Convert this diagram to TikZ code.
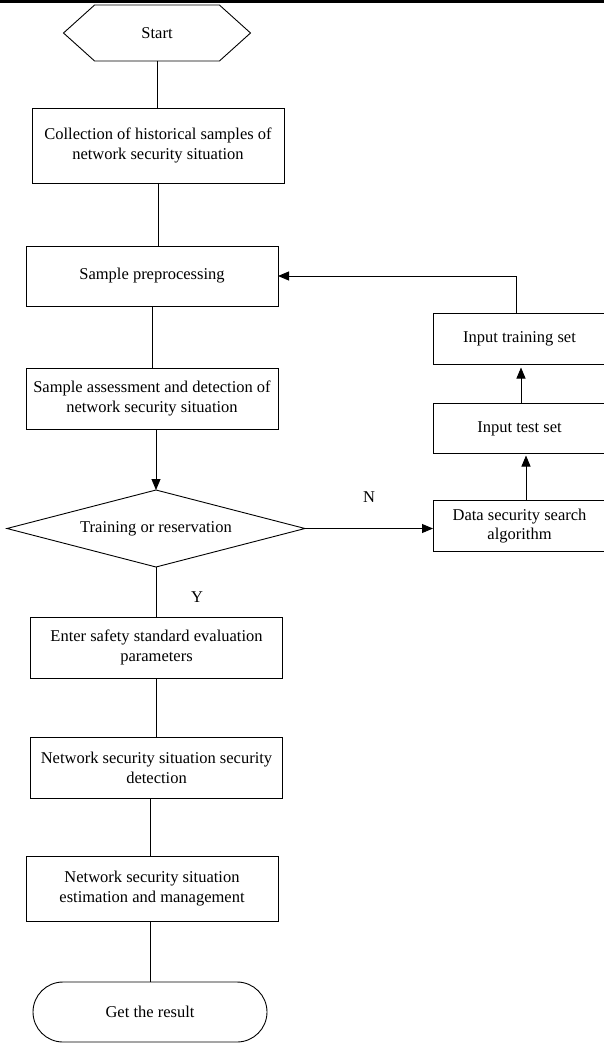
\documentclass[tikz,border=0pt]{standalone}
\usepackage{fontspec}
\setmainfont{Liberation Serif}
\usetikzlibrary{positioning, shapes.geometric, shapes.symbols, arrows.meta}

\begin{document}
\begin{tikzpicture}[
  x=1pt, y=-1pt,
  line width=0.9pt,
  every node/.style={
    font=\fontsize{16.5}{19.8}\selectfont,
    align=center,
    inner sep=0pt,
    outer sep=0pt
  },
  box/.style={rectangle, draw, minimum width=252pt, minimum height=61pt},
  sidebox/.style={rectangle, draw, minimum width=173pt, minimum height=51pt},
  startbox/.style={
    signal, signal to=east and west, signal pointer angle=84,
    draw, minimum width=187pt, minimum height=56pt
  },
  decision/.style={diamond, shape aspect=3.87, draw, minimum width=298pt, minimum height=77pt},
  endbox/.style={rectangle, rounded corners=30pt, draw, minimum width=234pt, minimum height=60pt},
  arrow/.style={-{Triangle[length=11pt, width=9pt]}}
]
  \path[use as bounding box, clip] (0,0) rectangle (604,1043);
  \fill (0,0) rectangle (604,3);

  % Define nodes
  \node[startbox] (start) at (157,33) {Start};
  \node[box, minimum height=75pt, below=47pt of start, xshift=1pt] (collect) {Collection of historical samples of\\network security situation};
  \node[box, minimum height=60pt, below=63pt of collect, xshift=-6pt] (prep) {Sample preprocessing};
  \node[box, below=62pt of prep] (assess) {Sample assessment and detection of\\network security situation};
  \node[decision, below=61pt of assess, xshift=4pt] (choice) {Training or reservation};
  \node[box, below=50pt of choice, xshift=0.5pt] (enter) {Enter safety standard evaluation\\parameters};
  \node[box, below=59pt of enter] (detect) {Network security situation security\\detection};
  \node[box, minimum height=65pt, below=58pt of detect, xshift=-4.5pt] (estim) {Network security situation\\estimation and management};
  \node[endbox, below=61pt of estim, xshift=-2pt] (result) {Get the result};

  \node[sidebox, right=128pt of choice, yshift=2.5pt] (search) {Data security search\\algorithm};
  \node[sidebox, minimum height=50pt, above=47pt of search] (testset) {Input test set};
  \node[sidebox, above=39pt of testset] (trainset) {Input training set};

  % Connect nodes with arrows
  \draw (start.south) -- (start.south |- collect.north);
  \draw (collect.south) -- (collect.south |- prep.north);
  \draw (prep) -- (assess);
  \draw[arrow] (assess.south -| choice.north) -- (choice.north);
  \draw (choice.south) -- (choice.south |- enter.north) node[pos=0.6, xshift=41pt] {Y};
  \draw (enter) -- (detect);
  \draw (detect.south -| result.north) -- (estim.north -| result.north);
  \draw (estim.south -| result.north) -- (result.north);
  \draw[arrow] (choice.east) -- (search.west |- choice.east) node[midway, yshift=31pt] {N};
  \draw[arrow, shorten >=2pt] ([xshift=6.5pt]search.north) -- ([xshift=6.5pt]testset.south);
  \draw[arrow, shorten >=3pt] ([xshift=1.5pt]testset.north) -- ([xshift=1.5pt]trainset.south);
  \draw[arrow] ([xshift=-3.5pt]trainset.north) |- (prep.east);
\end{tikzpicture}
\end{document}
